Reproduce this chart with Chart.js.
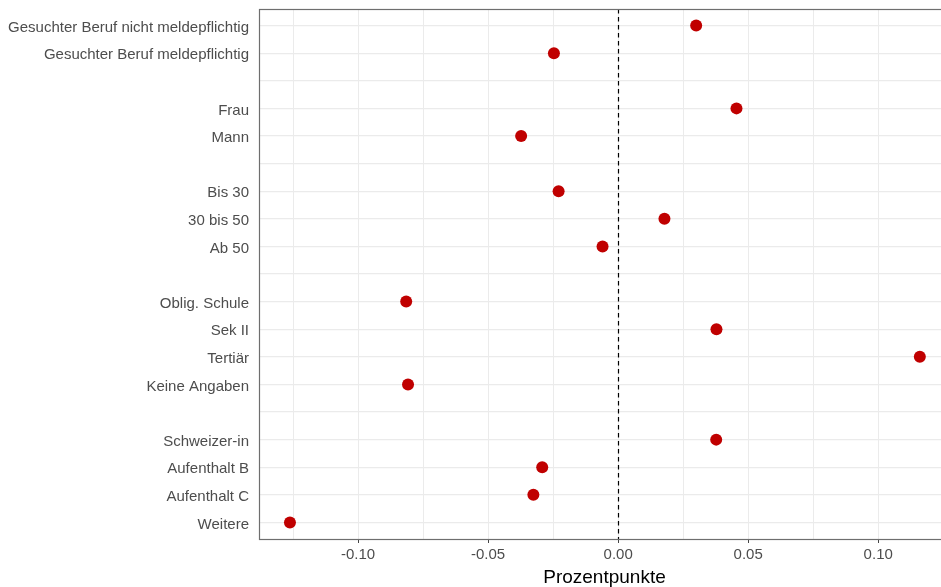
<!DOCTYPE html>
<html>
<head>
<meta charset="utf-8">
<script src="https://cdn.jsdelivr.net/npm/chart.js@4/dist/chart.umd.min.js"></script>
<style>
  html, body { margin: 0; padding: 0; background: #ffffff; overflow: hidden; }
  #wrap { width: 941px; height: 587px; position: relative; overflow: hidden; }
  #c { display: block; }
</style>
</head>
<body>
<div id="wrap"><canvas id="c" width="950" height="587"></canvas></div>
<script>
// Categories from top to bottom ("" = empty separator row)
const categories = [
  "Gesuchter Beruf nicht meldepflichtig",
  "Gesuchter Beruf meldepflichtig",
  "",
  "Frau",
  "Mann",
  "",
  "Bis 30",
  "30 bis 50",
  "Ab 50",
  "",
  "Oblig. Schule",
  "Sek II",
  "Tertiär",
  "Keine Angaben",
  "",
  "Schweizer-in",
  "Aufenthalt B",
  "Aufenthalt C",
  "Weitere"
];
// Differences in Prozentpunkte (null = separator row)
const values = [
  0.0300,
  -0.0247,
  null,
  0.0455,
  -0.0373,
  null,
  -0.0229,
  0.0178,
  -0.0060,
  null,
  -0.0815,
  0.0378,
  0.1160,
  -0.0808,
  null,
  0.0377,
  -0.0292,
  -0.0326,
  -0.1262
];
const xMajorTicks = [-0.10, -0.05, 0.00, 0.05, 0.10];
const xMinorTicks = [-0.125, -0.075, -0.025, 0.025, 0.075, 0.125];
const xRange = [-0.1381, 0.1276];
const xTitle = "Prozentpunkte";

const points = [];
values.forEach((v, i) => { if (v !== null) points.push({ x: v, y: i }); });

const frameAndZero = {
  id: 'frameAndZero',
  beforeDatasetsDraw(chart) {
    const ctx = chart.ctx, a = chart.chartArea, xs = chart.scales.x;
    const x0 = Math.round(xs.getPixelForValue(0)) + 0.5;
    ctx.save();
    ctx.strokeStyle = '#000000';
    ctx.lineWidth = 1.2;
    ctx.setLineDash([4.5, 3.5]);
    ctx.beginPath();
    ctx.moveTo(x0, a.top);
    ctx.lineTo(x0, a.bottom);
    ctx.stroke();
    ctx.restore();
  },
  afterDraw(chart) {
    const ctx = chart.ctx, a = chart.chartArea;
    ctx.save();
    ctx.strokeStyle = '#6e6e6e';
    ctx.lineWidth = 1.2;
    ctx.strokeRect(Math.round(a.left) + 0.5, Math.round(a.top) + 0.5,
                   Math.round(a.right - a.left) - 1, Math.round(a.bottom - a.top));
    ctx.restore();
  }
};

const chart = new Chart(document.getElementById('c'), {
  type: 'scatter',
  data: {
    datasets: [{
      data: points,
      backgroundColor: '#c00000',
      borderColor: '#c00000',
      pointRadius: 6,
      pointHoverRadius: 6,
      borderWidth: 0
    }]
  },
  options: {
    responsive: false,
    animation: false,
    events: [],
    layout: { autoPadding: false, padding: { top: 9, right: 0, left: 0, bottom: 0 } },
    plugins: { legend: { display: false }, tooltip: { enabled: false } },
    scales: {
      x: {
        type: 'linear',
        min: xRange[0],
        max: xRange[1],
        afterBuildTicks(scale) {
          scale.ticks = xMajorTicks.concat(xMinorTicks).sort((a, b) => a - b).map(v => ({ value: v }));
        },
        afterFit(scale) {
          scale.height = 48;
          scale.paddingLeft = 0; scale.paddingRight = 0;
          scale.paddingTop = 0; scale.paddingBottom = 0;
        },
        border: { display: false },
        grid: {
          color: '#ebebeb',
          lineWidth: 1,
          drawTicks: true,
          tickLength: 4,
          tickColor: (c) => xMajorTicks.some(t => Math.abs(t - c.tick.value) < 1e-9) ? '#444444' : 'rgba(0,0,0,0)'
        },
        ticks: {
          autoSkip: false,
          maxRotation: 0,
          padding: 3,
          color: '#4d4d4d',
          font: { family: 'Liberation Sans', size: 15 },
          callback: (v) => xMajorTicks.some(t => Math.abs(t - v) < 1e-9) ? Number(v).toFixed(2) : ''
        },
        title: {
          display: true,
          text: xTitle,
          color: '#000000',
          font: { family: 'Liberation Sans', size: 19, lineHeight: 1.0 },
          padding: { top: 1, bottom: 0 }
        }
      },
      y: {
        type: 'linear',
        reverse: true,
        min: -0.6,
        max: categories.length - 1 + 0.6,
        afterBuildTicks(scale) {
          scale.ticks = categories.map((_, i) => ({ value: i }));
        },
        afterFit(scale) {
          scale.width = 259;
          scale.paddingLeft = 0; scale.paddingRight = 0;
          scale.paddingTop = 0; scale.paddingBottom = 0;
        },
        border: { display: false },
        grid: {
          color: '#ebebeb',
          lineWidth: 1.2,
          drawTicks: false
        },
        ticks: {
          autoSkip: false,
          padding: 10,
          labelOffset: 2,
          color: '#4d4d4d',
          font: { family: 'Liberation Sans', size: 15 },
          callback: (v) => categories[v] || ''
        }
      }
    }
  },
  plugins: [frameAndZero]
});
</script>
</body>
</html>
